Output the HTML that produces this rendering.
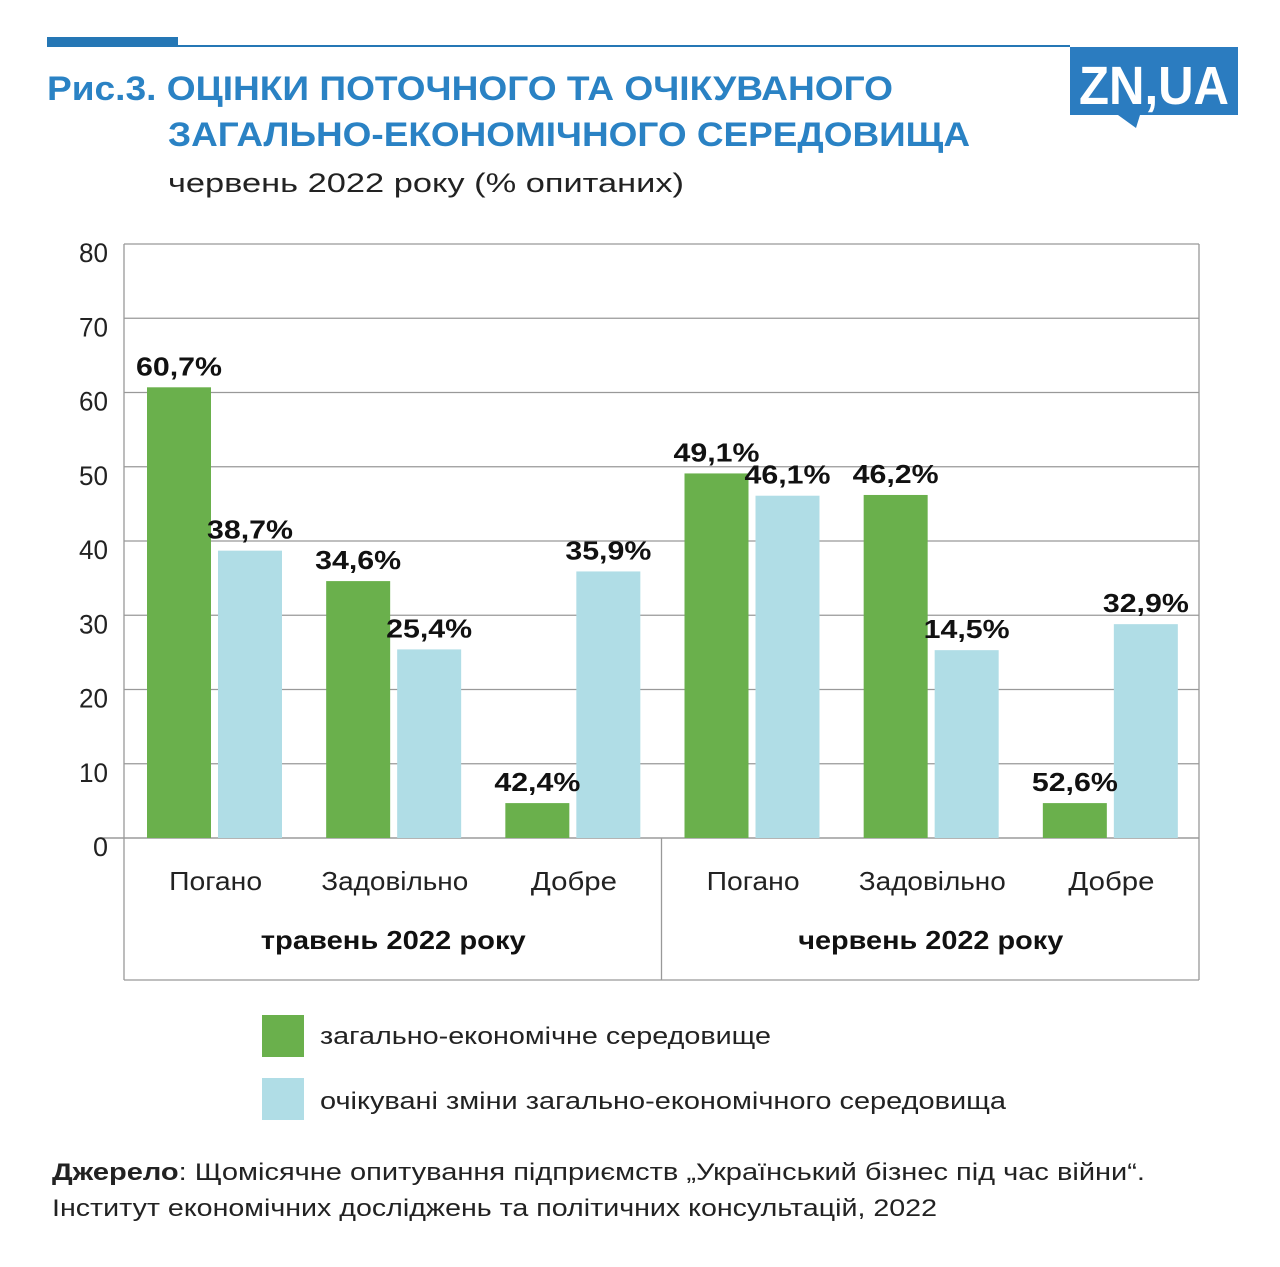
<!DOCTYPE html>
<html><head><meta charset="utf-8">
<style>
body{margin:0;background:#fff;width:1280px;height:1262px;overflow:hidden;font-family:"Liberation Sans","DejaVu Sans",sans-serif;}
svg text{font-family:"Liberation Sans","DejaVu Sans",sans-serif;}
</style></head>
<body>
<svg width="1280" height="1262" viewBox="0 0 1280 1262">
<rect x="47" y="37" width="131" height="10" fill="#2577b5"/>
<rect x="178" y="45" width="892" height="2" fill="#2577b5"/>
<g>
<rect x="1070" y="47" width="168" height="68" fill="#2b7cc0"/>
<polygon points="1118,115 1140,115 1136,128" fill="#2b7cc0"/>
<text x="1154" y="104" text-anchor="middle" font-size="54" font-weight="bold" fill="#fff" textLength="150" lengthAdjust="spacingAndGlyphs">ZN,UA</text>
</g>
<text x="47" y="100" font-size="34" font-weight="bold" fill="#2a82c4" textLength="846" lengthAdjust="spacingAndGlyphs">Рис.3. ОЦІНКИ ПОТОЧНОГО ТА ОЧІКУВАНОГО</text>
<text x="168" y="146" font-size="34" font-weight="bold" fill="#2a82c4" textLength="802" lengthAdjust="spacingAndGlyphs">ЗАГАЛЬНО-ЕКОНОМІЧНОГО СЕРЕДОВИЩА</text>
<text x="168" y="192" font-size="27" fill="#222" textLength="516" lengthAdjust="spacingAndGlyphs">червень 2022 року (% опитаних)</text>
<g id="plot"></g>
<rect x="262" y="1015" width="42" height="42" fill="#6ab04c"/>
<text x="320" y="1044" font-size="24" fill="#222" textLength="451" lengthAdjust="spacingAndGlyphs">загально-економічне середовище</text>
<rect x="262" y="1078" width="42" height="42" fill="#b0dde6"/>
<text x="320" y="1109" font-size="24" fill="#222" textLength="686" lengthAdjust="spacingAndGlyphs">очікувані зміни загально-економічного середовища</text>
<text x="52" y="1180" font-size="24" fill="#222" textLength="1093" lengthAdjust="spacingAndGlyphs"><tspan font-weight="bold">Джерело</tspan>: Щомісячне опитування підприємств „Український бізнес під час війни“.</text>
<text x="52" y="1216" font-size="24" fill="#222" textLength="885" lengthAdjust="spacingAndGlyphs">Інститут економічних досліджень та політичних консультацій, 2022</text>
</svg>
<script>
const categories=["Погано","Задовільно","Добре","Погано","Задовільно","Добре"];
const periods=["травень 2022 року","червень 2022 року"];
const currentValues=[60.7,34.6,4.7,49.1,46.2,4.7];
const expectedValues=[38.7,25.4,35.9,46.1,25.3,28.8];
const currentLabels=["60,7%","34,6%","42,4%","49,1%","46,2%","52,6%"];
const expectedLabels=["38,7%","25,4%","35,9%","46,1%","14,5%","32,9%"];
const yTicks=[0,10,20,30,40,50,60,70,80];
const NS="http://www.w3.org/2000/svg";
const g=document.getElementById('plot');
const X0=124,X1=1199,Y0=838,Y1=244,YMAX=80;
const y=v=>Y0-(Y0-Y1)*v/YMAX;
const catW=(X1-X0)/categories.length;
const catLen={"Погано":93,"Задовільно":147,"Добре":86};
function mk(t,a,txt){const e=document.createElementNS(NS,t);for(const k in a)e.setAttribute(k,a[k]);if(txt!==undefined)e.textContent=txt;g.appendChild(e);return e;}
yTicks.forEach(t=>{
 const l=mk('line',{x1:t===0?100:X0,x2:X1,y1:y(t),y2:y(t),stroke:t===0?'#888':'#999','stroke-width':1.3});
 
 
 const a={x:108,y:y(t)+18,'text-anchor':'end','font-size':27,fill:'#222'};
 if(t>0){a.textLength=29;a.lengthAdjust='spacingAndGlyphs';}
 const tx=mk('text',a,String(t));
 
 
});
[[X0,Y1,X0,980],[X1,Y1,X1,980],[X0,980,X1,980],[(X0+X1)/2,Y0,(X0+X1)/2,980]].forEach((p,i)=>{
 const l=mk('line',{x1:p[0],y1:p[1],x2:p[2],y2:p[3],stroke:'#999','stroke-width':1.3});
 
 
});
categories.forEach((c,i)=>{
 const cx=X0+catW*i;
 const gx=cx+23,bx=cx+94,w=64;
 const r1=mk('rect',{x:gx,y:y(currentValues[i]),width:w,height:Y0-y(currentValues[i]),fill:'#6ab04c'});
 
 
 const r2=mk('rect',{x:bx,y:y(expectedValues[i]),width:w,height:Y0-y(expectedValues[i]),fill:'#b0dde6'});
 
 
 const t1=mk('text',{x:gx+w/2-43,y:y(currentValues[i])-12,'font-size':26,'font-weight':'bold',fill:'#111',textLength:86,lengthAdjust:'spacingAndGlyphs'},currentLabels[i]);
 
 
 const t2=mk('text',{x:bx+w/2-43,y:y(expectedValues[i])-12,'font-size':26,'font-weight':'bold',fill:'#111',textLength:86,lengthAdjust:'spacingAndGlyphs'},expectedLabels[i]);
 
 
 const L=catLen[c]||100;
 const ct=mk('text',{x:cx+catW/2-L/2+2,y:890,'font-size':26,fill:'#222',textLength:L,lengthAdjust:'spacingAndGlyphs'},c);
 
 
});
periods.forEach((p,i)=>{
 const half=(X1-X0)/periods.length;
 const t=mk('text',{x:X0+half*i+half/2-132,y:949,'font-size':26,'font-weight':'bold',fill:'#111',textLength:265,lengthAdjust:'spacingAndGlyphs'},p);
 
 
});
</script>
</body></html>
